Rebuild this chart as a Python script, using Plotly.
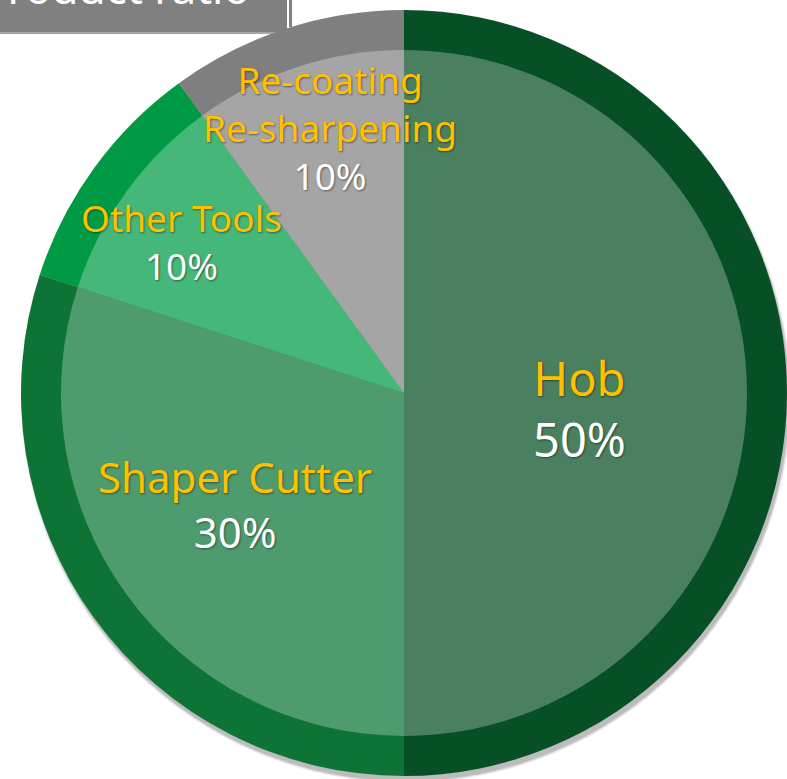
import plotly.graph_objects as go

# ---- data ----
categories = ["Hob", "Shaper Cutter", "Other Tools", "Re-coating<br>Re-sharpening"]
values = [50, 30, 10, 10]
ring_colors = ["#074F25", "#0E7436", "#009A44", "#7F7F7F"]
fill_colors = ["#4A8060", "#4E9B6E", "#45B778", "#A5A5A5"]
title_text = "Product ratio"

# ---- layout helpers (pixel -> paper) ----
W, H = 787, 779
def px(x):
    return x / W
def py(y):
    return 1 - y / H

CX, CY = 404, 393
R_OUT, R_IN = 383, 343
FONT = "Noto Sans, sans-serif"

fig = go.Figure()
fig.add_trace(go.Pie(
    labels=categories, values=values, sort=False, direction="clockwise", rotation=0,
    marker=dict(colors=ring_colors, line=dict(width=0)),
    textinfo="none", hoverinfo="label+percent", showlegend=False,
    domain=dict(x=[px(CX - R_OUT), px(CX + R_OUT)], y=[py(CY + R_OUT), py(CY - R_OUT)]),
))
fig.add_trace(go.Pie(
    labels=categories, values=values, sort=False, direction="clockwise", rotation=0,
    marker=dict(colors=fill_colors, line=dict(width=0)),
    textinfo="none", hoverinfo="label+percent", showlegend=False,
    domain=dict(x=[px(CX - R_IN), px(CX + R_IN)], y=[py(CY + R_IN), py(CY - R_IN)]),
))

total = sum(values)
label_pos = [(579, 408, 47), (235, 504, 42), (181, 241, 37), (330, 128, 37)]
shadow = "1px 1px 2px rgba(0,0,0,0.45)"
annotations = []
for cat, v, (x, y, fs) in zip(categories, values, label_pos):
    pct = f"{v / total * 100:.0f}%"
    annotations.append(dict(
        x=px(x), y=py(y), xref="paper", yref="paper", xanchor="center", yanchor="middle",
        showarrow=False,
        text=f"<span style='color:#FFC000'>{cat}</span><br>{pct}",
        font=dict(family=FONT, size=fs, color="white", shadow=shadow),
    ))
annotations.append(dict(
    x=px(252), y=py(19), xref="paper", yref="paper", xanchor="right", yanchor="bottom",
    showarrow=False, text=title_text,
    font=dict(family=FONT, size=44, color="white"),
))

shapes = []
# soft drop shadow under the pie
for i, op in enumerate([0.07, 0.09, 0.12]):
    r = R_OUT + 2 - i
    shapes.append(dict(type="circle", xref="paper", yref="paper", layer="below",
                       x0=px(CX + 2 - r), x1=px(CX + 2 + r), y0=py(CY + 5 + r), y1=py(CY + 5 - r),
                       fillcolor=f"rgba(0,0,0,{op})", line=dict(width=0)))
# title box
shapes.append(dict(type="rect", xref="paper", yref="paper", layer="below",
                   x0=0, x1=px(287), y0=py(32), y1=py(-5), fillcolor="#808080", line=dict(width=0)))
shapes.append(dict(type="rect", xref="paper", yref="paper", layer="below",
                   x0=0, x1=px(287), y0=py(34), y1=py(32), fillcolor="#A6A6A6", line=dict(width=0)))
shapes.append(dict(type="rect", xref="paper", yref="paper", layer="below",
                   x0=px(289), x1=px(292), y0=py(27), y1=py(-5), fillcolor="#808080", line=dict(width=0)))

fig.update_layout(
    width=W, height=H, margin=dict(l=0, r=0, t=0, b=0),
    paper_bgcolor="white", plot_bgcolor="white",
    annotations=annotations, shapes=shapes,
)
fig.write_html("out.html", config={"displayModeBar": False},
               post_script="document.body.style.margin='0';")
